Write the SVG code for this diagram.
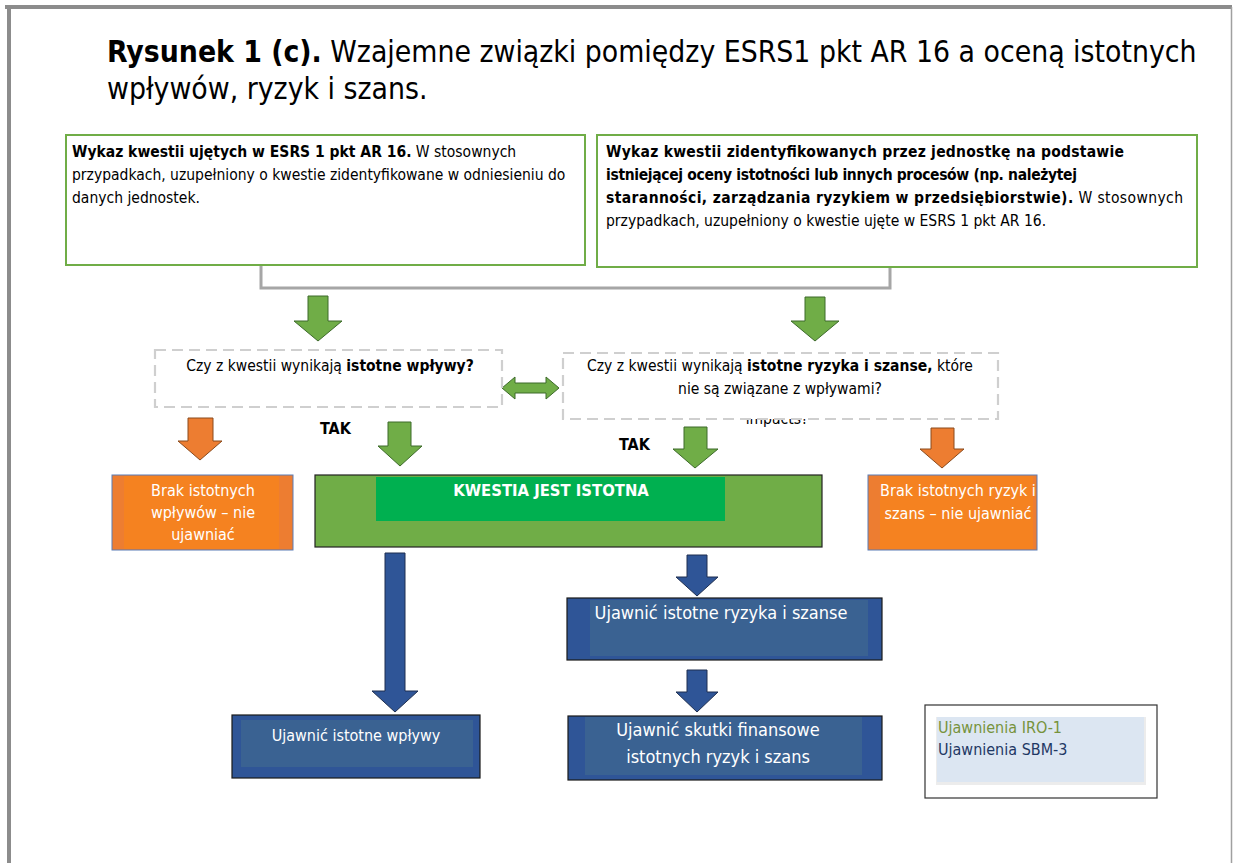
<svg xmlns="http://www.w3.org/2000/svg" width="1233" height="863" viewBox="0 0 1233 863">
<defs>
<style>
text{font-family:"DejaVu Sans Condensed","DejaVu Sans",Verdana,sans-serif;}
.t{font-size:15.5px;fill:#000;}
.b{font-weight:bold;}
.srcbox{fill:#fff;stroke:#70ad47;stroke-width:2;}
.dash{fill:#fff;stroke:#cfcfcf;stroke-width:2.2;stroke-dasharray:11 6;}
.garrow{fill:#70ad47;stroke:#3d6b2a;stroke-width:1;}
.oarrow{fill:#ed7d31;stroke:#8a4a1c;stroke-width:1;}
.barrow{fill:#2f5597;stroke:#1f2f50;stroke-width:1;}
.obox{fill:#ed7d31;stroke:#5b7db5;stroke-width:1;}
.oin{fill:#f58220;}
.bbox{fill:#2f5597;stroke:#1a1a1a;stroke-width:1.2;}
.bin{fill:#3a6292;}
.wt{font-size:16px;fill:#fff;}
.wl{font-size:18px;fill:#fff;}
</style>
</defs>
<rect x="0" y="0" width="1233" height="863" fill="#fff"/>
<g id="frame">
<line x1="5" y1="7" x2="1232" y2="7" stroke="#8c8c8c" stroke-width="4"/>
<line x1="9" y1="5" x2="9" y2="863" stroke="#8c8c8c" stroke-width="4"/>
<line x1="1231.5" y1="7" x2="1231.5" y2="863" stroke="#a0a0a0" stroke-width="1.5"/>
</g>
<g id="title">
<text x="107" y="62" font-size="29.8"><tspan font-weight="bold">Rysunek 1 (c).</tspan> Wzajemne związki pomiędzy ESRS1 pkt AR 16 a oceną istotnych</text>
<text x="107" y="99" font-size="29.8">wpływów, ryzyk i szans.</text>
</g>
<g id="connectors">
<polyline points="261,265 261,288 890,288 890,267" fill="none" stroke="#a6a6a6" stroke-width="3"/>
<path class="garrow" d="M308,296 H328 V321 H342 L318,341 L294,321 H308 Z"/>
<path class="garrow" d="M805,297 H825 V321 H839 L815,341 L791,321 H805 Z"/>
<path class="garrow" d="M502,388 L515,377 V383 H546 V377 L559,388 L546,399 V393 H515 V399 Z"/>
<path class="oarrow" d="M188,418 H213 V441 H222 L200,460 L178,441 H188 Z"/>
<path class="garrow" d="M388,422 H411 V446 H422 L400,466 L378,446 H388 Z"/>
<path class="garrow" d="M684,427 H707 V449 H718 L695,468 L673,449 H684 Z"/>
<path class="oarrow" d="M931,428 H954 V449 H964 L942,468 L920,449 H931 Z"/>
<path class="barrow" d="M385,553 H405 V691 H418 L395,712 L372,691 H385 Z"/>
<path class="barrow" d="M687,555 H707 V577 H718 L697,596 L676,577 H687 Z"/>
<path class="barrow" d="M687,670 H707 V692 H718 L697,712 L676,692 H687 Z"/>
</g>
<g id="src-left">
<rect class="srcbox" x="66" y="135" width="519" height="130"/>
<text class="t" x="72" y="157"><tspan class="b">Wykaz kwestii ujętych w ESRS 1 pkt AR 16.</tspan> W stosownych</text>
<text class="t" x="72" y="180">przypadkach, uzupełniony o kwestie zidentyfikowane w odniesieniu do</text>
<text class="t" x="72" y="203">danych jednostek.</text>
</g>
<g id="src-right">
<rect class="srcbox" x="597" y="135" width="600" height="132"/>
<text class="t" x="606" y="157" textLength="518"><tspan class="b">Wykaz kwestii zidentyfikowanych przez jednostkę na podstawie</tspan></text>
<text class="t" x="606" y="180" textLength="471"><tspan class="b">istniejącej oceny istotności lub innych procesów (np. należytej</tspan></text>
<text class="t" x="606" y="203" textLength="577"><tspan class="b">staranności, zarządzania ryzykiem w przedsiębiorstwie).</tspan> W stosownych</text>
<text class="t" x="606" y="226">przypadkach, uzupełniony o kwestie ujęte w ESRS 1 pkt AR 16.</text>
</g>
<g id="q-impacts">
<rect class="dash" x="155" y="350" width="347" height="57"/>
<text class="t" x="330" y="371" text-anchor="middle">Czy z kwestii wynikają <tspan class="b">istotne wpływy?</tspan></text>
</g>
<g id="q-risks">
<text class="t" x="777" y="424" text-anchor="middle">impacts?</text>
<rect class="dash" x="563" y="353" width="435" height="66"/>
<text class="t" x="780" y="371" text-anchor="middle">Czy z kwestii wynikają <tspan class="b">istotne ryzyka i szanse,</tspan> które</text>
<text class="t" x="780" y="394" text-anchor="middle">nie są związane z wpływami?</text>
</g>
<g id="tak-labels">
<text class="b" x="320" y="434" font-size="16">TAK</text>
<text class="b" x="619" y="450" font-size="16">TAK</text>
</g>
<g id="no-impacts">
<rect class="obox" x="112" y="475" width="181" height="75"/>
<rect class="oin" x="124" y="476" width="155" height="73"/>
<text class="wt" x="203" y="496" text-anchor="middle">Brak istotnych</text>
<text class="wt" x="203" y="518" text-anchor="middle">wpływów – nie</text>
<text class="wt" x="203" y="540" text-anchor="middle">ujawniać</text>
</g>
<g id="material">
<rect x="315" y="475" width="507" height="72" fill="#70ad47" stroke="#222" stroke-width="1.2"/>
<rect x="376" y="477" width="349" height="44" fill="#00b050"/>
<text x="551" y="496" text-anchor="middle" font-size="16.5" font-weight="bold" fill="#fff">KWESTIA JEST ISTOTNA</text>
</g>
<g id="no-risks">
<rect class="obox" x="868" y="475" width="169" height="75"/>
<rect class="oin" x="880" y="476" width="153" height="73"/>
<text class="wt" x="958" y="496" text-anchor="middle">Brak istotnych ryzyk i</text>
<text class="wt" x="958" y="519" text-anchor="middle">szans – nie ujawniać</text>
</g>
<g id="disclose-risks">
<rect class="bbox" x="567" y="598" width="315" height="62"/>
<rect class="bin" x="590" y="600" width="278" height="56"/>
<text class="wl" x="721" y="619" text-anchor="middle">Ujawnić istotne ryzyka i szanse</text>
</g>
<g id="disclose-impacts">
<rect class="bbox" x="232" y="715" width="248" height="63"/>
<rect class="bin" x="241" y="720" width="232" height="47"/>
<text class="wt" x="356" y="741" text-anchor="middle">Ujawnić istotne wpływy</text>
</g>
<g id="disclose-financial">
<rect class="bbox" x="568" y="716" width="314" height="64"/>
<rect class="bin" x="585" y="717" width="277" height="58"/>
<text class="wl" x="718" y="736" text-anchor="middle">Ujawnić skutki finansowe</text>
<text class="wl" x="718" y="763" text-anchor="middle">istotnych ryzyk i szans</text>
</g>
<g id="legend">
<rect x="925" y="705" width="232" height="93" fill="#fff" stroke="#333" stroke-width="1.2"/>
<rect x="936" y="717" width="210" height="68" fill="#ececec"/>
<rect x="937" y="717" width="207" height="65" fill="#dce6f2"/>
<text x="938" y="733" font-size="16" style="fill:#77933c">Ujawnienia IRO-1</text>
<text x="938" y="755" font-size="16" style="fill:#1f3864">Ujawnienia SBM-3</text>
</g>
</svg>
